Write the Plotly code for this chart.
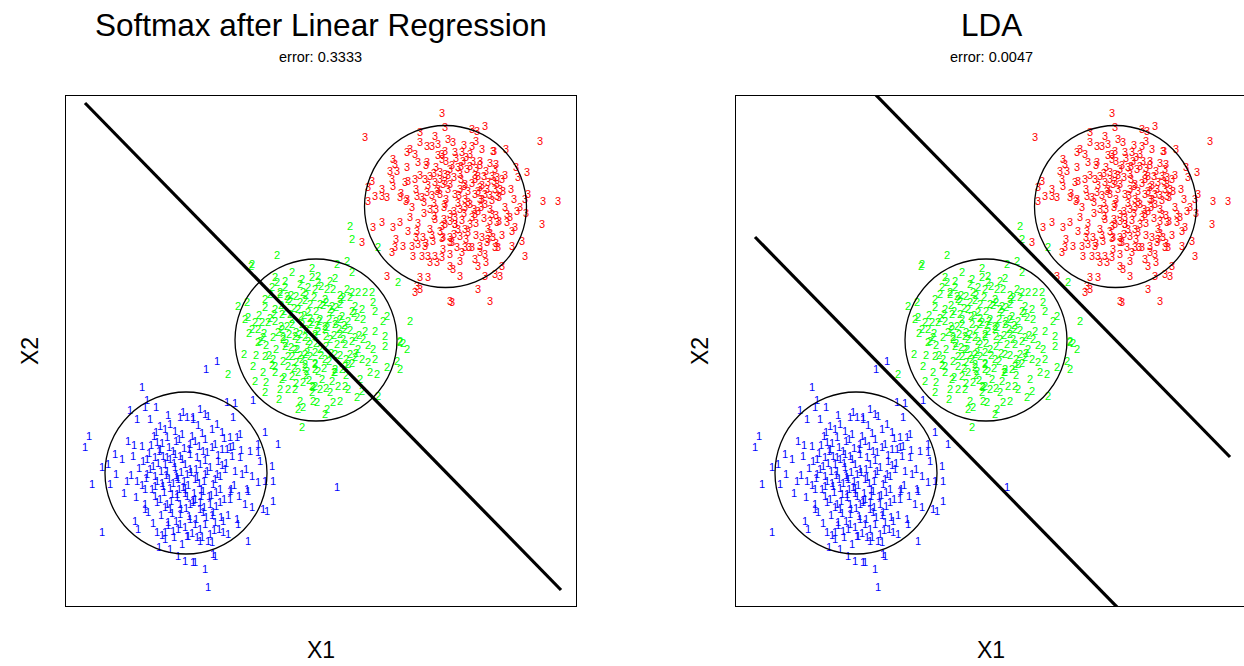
import plotly.graph_objects as go

# ---- data (arbitrary units, no ticks shown) ----
c1_x = [7.6,8.1,9.0,6.4,7.9,2.3,1.9,6.2,4.9,4.2,3.6,5.0,2.6,4.4,7.1,8.4,9.4,7.6,11.4,12.1,12.7,10.9,10.1,11.6,9.1,6.7,7.7,8.9,9.7,10.7,11.4,12.4,6.1,7.1,8.1,9.1,10.1,11.1,12.1,9.7,11.7,8.6,
        16.1,16.9,18.7,13.4,13.9,14.2,16.7,15.1,15.6,17.4,19.9,16.4,17.1,19.2,21.2,16.4,15.6,16.7,18.4,19.2,16.6,17.4,19.4,20.6,17.6,18.6,19.9,20.7,19.2,18.1,16.4,12.7,12.9,13.7,14.4,13.1,14.7,13.7,15.2,15.1,
        3.6,6.9,7.2,7.9,8.2,8.9,10.1,11.1,12.1,12.4,11.4,9.1,9.9,10.7,11.4,10.2,12.1,9.9,11.6,10.4,11.2,11.9,12.7,
        18.2,17.9,18.6,19.7,20.1,20.7,12.7,13.4,14.4,15.4,16.4,13.7,14.7,15.7,17.1,17.2,12.9,13.9,14.9,15.7,16.2,14.4,13.1,13.4,14.2,14.6,18.2,14.7,14.9,12.9,13.9,14.2,
        27.1,14.0,15.1,
        10.4,10.9,11.9,12.4,11.2,9.9,12.9,13.4,13.9,11.9,10.6,9.4,12.9,11.4,13.4,12.4,10.9,9.4,8.4,7.9,13.9,12.4,10.4,14.9,15.9,15.4,
        8.8,9.6,10.3,11.0,11.8,12.6,13.3,14.1,8.3,9.2,10.0,10.7,11.5,12.2,13.0,13.8,14.5,15.4,16.0,7.3,8.0,8.9,9.8,10.5,11.3,12.0,12.8,13.5,14.0,15.0,16.2,9.5,10.4,11.0,11.9,12.6,13.4,8.7,7.0,6.5,15.8,14.6,13.2,11.7,10.2,9.0,6.8,5.6,5.8,17.5,18.0,16.8,17.3,15.3,10.8,9.3,
        8.5,9.3,10.1,10.8,11.6,12.3,13.1,13.9,14.6,15.2,8.7,9.5,10.3,11.0,11.8,12.5,13.3,14.1,14.9,15.6,8.9,9.6,10.4,11.1,11.9,12.7,13.5,14.3,15.0,15.8,9.1,9.9,10.6,11.5,12.3,13.0,13.8,14.6,15.5,10.2,11.2,12.2,13.6,14.8,9.6,16.5,16.9,16.1,13.6,11.3,9.9,8.1,7.6,7.9]
c1_y = [21.8,20.5,19.8,19.5,19.8,16.9,15.8,16.4,15.1,14.1,13.8,13.1,12.1,12.1,18.6,18.6,17.9,15.9,18.8,18.8,18.6,17.4,16.8,17.1,16.3,14.9,14.4,14.8,14.9,15.4,14.9,15.1,12.4,12.4,13.1,12.4,13.4,12.8,13.1,11.9,11.8,11.6,
        20.3,20.2,20.5,19.6,19.1,18.9,18.8,18.1,17.3,17.1,17.3,16.8,16.8,16.1,16.1,15.8,15.6,15.9,15.4,15.3,14.9,14.8,14.4,13.9,13.1,12.9,12.4,12.4,12.3,11.6,11.4,18.8,16.4,15.4,13.8,12.8,12.1,11.4,14.4,13.1,
        7.3,8.4,7.6,10.1,9.3,10.9,10.1,11.1,10.9,10.1,9.1,7.3,7.3,7.4,8.1,8.3,6.9,6.6,6.1,5.6,4.9,4.4,4.3,
        11.4,10.1,9.8,9.6,9.4,10.4,10.3,10.3,10.1,10.3,10.6,9.3,9.3,8.4,8.6,8.1,8.1,8.1,8.3,7.3,7.1,7.1,6.8,6.4,6.4,6.3,6.4,5.1,4.9,4.3,3.6,1.8,
        11.8,23.6,24.4,
        14.6,13.8,14.1,13.6,12.6,14.1,12.6,14.1,13.1,11.6,11.1,10.6,10.6,10.1,9.6,8.6,15.1,15.6,13.6,11.6,16.6,16.1,18.1,16.1,13.6,11.6,
        16.9,16.2,15.8,16.4,15.7,16.9,15.9,15.3,15.2,14.2,13.0,12.2,13.3,12.0,13.6,12.4,11.0,12.9,14.2,13.7,12.7,11.9,11.3,10.4,11.6,9.7,11.2,10.9,8.8,9.9,9.0,9.0,9.6,8.4,7.8,7.2,7.6,8.2,10.8,13.0,16.7,17.6,18.0,19.3,19.0,17.3,16.0,14.6,11.2,15.5,13.6,12.0,10.9,7.6,6.8,5.8,
        16.0,15.4,14.8,14.2,14.6,15.6,14.8,14.5,15.8,15.0,13.9,13.4,12.6,13.0,12.4,13.3,12.2,13.4,12.6,14.0,12.9,12.2,11.7,10.8,11.2,10.5,11.6,10.9,11.3,10.6,10.3,9.8,9.2,9.6,8.9,8.6,9.8,9.0,8.8,8.0,7.6,6.9,6.8,7.5,7.0,11.6,13.4,15.6,17.2,16.6,17.6,14.6,12.0,9.6]

c2_x = [21.1,18.6,18.5,22.6,24.6,20.9,21.9,21.1,23.4,24.6,24.2,20.6,21.4,21.9,20.4,22.1,23.7,24.9,19.9,17.2,18.1,19.9,20.9,22.4,23.4,24.4,18.2,18.9,19.6,20.2,20.9,21.6,22.4,23.2,24.2,18.6,19.2,21.6,22.6,23.6,24.6,19.7,20.7,21.7,22.9,23.9,24.9,19.4,17.9,
        28.1,27.1,28.6,26.4,26.7,28.1,28.6,29.2,29.9,30.6,33.2,25.2,25.2,27.7,28.4,30.7,30.9,29.6,28.9,28.6,29.7,29.1,31.7,32.1,34.4,29.9,30.9,31.9,28.9,29.7,33.4,33.7,25.9,26.9,27.6,26.6,28.2,
        17.8,18.7,16.2,18.9,19.7,19.9,19.2,19.9,20.7,20.9,20.9,21.6,21.4,22.2,22.9,23.7,23.2,24.1,24.9,24.7,24.6,23.4,23.7,23.2,24.7,23.6,21.9,22.6,22.2,23.6,24.9,
        31.9,33.4,34.1,33.1,33.4,32.1,30.9,30.2,30.4,31.1,31.2,29.6,29.1,28.2,27.2,26.4,26.7,26.1,25.9,27.4,28.9,29.6,29.2,30.7,28.2,26.9,25.6,24.9,
        28.4,28.6,31.2,
        25.4,25.9,24.9,26.4,24.4,25.4,26.9,23.9,25.9,27.4,27.9,23.4,24.4,26.4,25.4,27.4,22.9,24.9,26.9,23.9,27.9,28.4,25.9,27.4,
        21.5,22.8,23.8,25.0,26.0,27.0,20.4,21.2,22.1,23.0,24.0,25.1,26.3,27.3,28.4,20.0,21.0,22.0,23.1,24.1,25.0,26.0,27.1,28.0,20.6,21.7,22.8,24.0,25.2,26.3,27.6,21.8,23.0,24.3,25.4,26.6,22.5,24.0,26.1,27.4,19.3,18.3,19.0,29.3,30.2,29.4,21.3,25.1,28.0,23.6,26.9,20.0,
        21.4,22.2,23.0,23.9,24.8,25.7,26.6,21.8,22.6,23.5,24.4,25.3,26.1,27.0,27.8,21.5,22.3,23.2,24.2,25.2,26.0,26.8,27.7,28.6,21.7,22.5,23.4,24.4,25.5,26.5,27.4,28.6,22.2,23.0,23.9,24.9,25.8,26.8,27.9,22.6,24.6,26.0,27.9,20.8,19.8,20.3,29.0,28.8,27.5,25.5]
c2_y = [35.0,34.1,33.9,33.3,33.7,32.8,32.4,32.3,32.1,32.8,31.8,31.8,31.1,31.8,31.1,30.9,31.3,31.6,30.6,29.9,30.3,29.8,29.6,30.4,30.3,30.1,28.8,28.3,28.3,28.3,28.4,29.1,29.1,29.6,29.3,27.6,27.6,27.6,28.1,28.1,28.3,26.8,26.8,26.8,26.9,26.8,26.9,26.4,28.6,
        34.4,34.1,33.3,32.4,31.6,31.6,31.3,31.3,31.3,31.3,32.3,32.9,32.3,30.8,30.8,30.3,29.4,29.6,29.9,29.4,28.6,28.8,28.4,28.9,28.4,27.4,27.4,26.9,26.8,26.6,26.4,26.2,27.9,28.1,28.9,29.3,28.4,
        25.1,23.9,23.1,22.4,23.3,21.3,26.3,24.9,24.6,23.9,23.3,22.6,21.6,21.6,21.6,22.3,23.3,23.4,23.6,21.8,21.3,20.4,19.8,19.6,20.4,17.8,25.9,24.9,23.9,24.6,25.3,
        25.9,26.3,25.6,24.4,23.6,23.8,24.6,24.3,23.3,23.1,20.9,21.4,20.8,21.6,21.9,21.3,20.3,19.6,19.1,20.4,24.8,24.6,25.6,25.6,24.1,23.3,22.6,21.9,
        37.9,36.6,35.8,
        28.6,27.6,27.1,26.6,26.1,25.6,25.1,25.1,24.6,27.1,26.1,27.1,28.1,29.6,30.1,28.6,25.6,24.1,23.6,24.1,27.6,25.1,30.6,30.1,
        30.0,29.7,29.0,29.4,30.3,29.8,28.7,27.3,27.9,27.3,27.6,28.0,28.6,27.6,27.5,26.0,25.6,26.2,25.6,25.3,26.2,25.9,26.1,24.6,24.0,24.4,23.7,23.0,23.4,24.4,23.6,22.8,22.2,22.5,21.6,22.4,31.0,31.0,31.6,31.0,29.0,27.2,25.0,27.0,26.0,22.6,20.6,20.3,23.0,32.6,32.7,22.3,
        31.3,30.6,30.9,30.5,30.8,30.0,29.9,29.4,28.6,28.9,28.7,28.4,27.8,28.4,28.0,27.9,27.1,26.6,26.4,27.4,26.9,27.0,26.6,26.4,26.6,25.8,25.0,24.9,25.0,25.2,25.0,24.2,24.9,24.3,23.8,24.2,23.7,23.3,23.9,22.9,21.9,21.7,21.9,29.1,27.2,25.0,25.2,29.2,30.6,31.9]

c3_x = [29.9,37.6,37.9,35.4,36.9,35.4,36.1,36.6,37.2,34.4,34.1,34.9,36.1,37.6,32.7,32.4,33.1,34.1,35.2,32.9,30.6,31.6,30.2,32.6,32.7,33.9,34.9,35.9,36.9,37.4,30.9,31.6,32.1,33.4,34.1,35.1,36.1,37.1,37.7,30.2,37.4,
        41.9,40.6,41.1,47.4,38.7,40.6,41.6,42.7,38.9,39.6,40.4,37.9,39.7,40.7,41.4,39.2,38.4,40.1,42.9,42.6,43.1,41.2,45.2,46.1,42.2,43.1,41.4,42.1,42.9,43.7,43.1,46.2,47.7,49.2,45.9,
        30.7,29.6,32.6,32.9,33.7,34.6,35.2,35.9,34.7,35.6,36.2,36.9,37.6,36.4,37.1,32.1,35.1,35.4,36.2,35.4,34.9,38.4,31.6,32.7,33.4,34.4,35.1,35.7,36.7,37.7,37.4,38.4,38.4,37.7,38.4,
        47.6,45.9,45.6,44.6,44.1,45.1,45.4,42.9,43.2,41.9,41.2,41.9,42.9,43.4,43.6,41.2,42.4,38.6,39.4,38.7,39.9,39.1,40.6,41.4,42.1,42.7,41.6,40.2,39.2,38.4,42.2,43.1,42.6,41.2,39.9,38.9,44.1,
        38.4,39.4,38.9,39.9,37.9,40.4,39.4,38.4,40.9,37.4,39.9,40.9,41.9,38.9,37.9,36.4,36.9,41.4,40.4,42.4,39.4,37.9,40.9,41.9,
        36.0,37.0,38.0,39.0,40.0,41.0,42.0,43.0,35.4,36.4,38.2,39.5,40.6,41.8,43.6,44.5,35.0,36.6,38.0,39.2,40.2,41.2,42.6,43.9,34.6,35.8,37.0,38.4,39.6,40.8,41.8,43.0,44.4,35.2,36.4,37.6,38.8,40.0,41.0,42.4,43.6,36.0,39.6,40.9,44.6,33.5,34.2,45.0,44.0,38.2,41.0,39.8,33.0,46.0,42.0,
        37.6,38.6,39.5,40.4,41.4,42.4,36.8,37.9,38.8,39.8,40.9,41.6,42.8,43.4,36.2,37.2,38.2,39.3,40.2,41.6,42.4,43.3,35.6,36.8,37.8,38.8,39.8,40.6,41.5,42.4,43.3,35.8,36.8,37.8,38.9,39.9,41.0,42.2,43.0,36.6,37.6,38.6,39.4,40.3,41.4,43.9,44.8,44.9,34.2,34.0,35.0,39.4,42.8,37.2]
c3_y = [46.8,49.2,47.8,47.3,46.9,46.3,45.9,45.9,46.1,45.6,45.3,45.1,44.3,45.1,44.6,43.4,43.4,43.8,44.3,44.1,42.4,41.6,41.8,42.6,41.9,42.3,42.6,42.6,42.3,42.6,40.9,40.9,40.8,40.8,40.6,40.9,41.3,41.4,42.1,40.4,43.3,
        47.9,47.6,47.4,46.4,46.3,45.9,45.6,45.4,45.3,45.3,45.1,45.4,44.4,44.4,44.4,43.8,43.6,43.6,43.6,42.9,42.8,42.9,42.8,43.3,42.3,42.1,41.8,41.6,41.6,41.4,40.9,41.1,40.4,40.4,40.6,
        37.8,36.3,35.3,35.8,35.9,35.9,36.1,35.9,34.9,34.9,34.9,34.9,34.8,34.3,34.3,32.9,31.9,31.6,32.8,32.8,31.3,33.9,38.3,37.8,38.3,38.8,37.4,36.8,36.4,36.8,37.4,36.3,35.1,35.6,30.4,
        38.1,34.9,36.4,37.4,39.1,39.4,39.8,35.8,35.8,35.1,33.9,32.9,33.1,32.9,33.9,31.6,30.4,30.3,32.9,33.6,35.8,35.8,35.8,35.9,36.3,36.8,36.8,37.3,37.6,36.8,37.6,38.3,39.1,39.4,39.8,38.8,38.3,
        42.1,41.6,41.1,40.6,40.1,40.1,39.6,39.1,41.1,41.1,42.1,39.1,40.1,38.1,38.1,39.6,38.6,40.6,38.1,39.6,43.1,43.1,42.6,41.1,
        44.0,43.8,44.4,44.7,44.8,43.7,43.4,44.1,43.0,42.9,43.0,42.6,42.2,42.9,42.6,41.6,41.6,41.0,40.6,40.2,41.4,41.4,40.5,39.8,39.8,40.3,39.6,38.4,38.5,39.6,38.7,39.0,38.8,38.2,37.6,37.9,37.1,36.6,37.0,37.2,37.0,36.2,35.3,34.6,35.9,41.2,37.4,43.8,45.6,46.6,46.4,46.0,36.6,39.2,34.3,
        44.6,44.0,43.9,43.9,44.0,44.2,43.2,42.4,42.8,41.9,43.0,42.0,42.4,41.6,42.0,41.6,41.6,41.0,40.3,40.6,41.0,40.8,40.8,40.2,39.8,39.4,39.2,38.8,39.8,38.4,38.4,39.2,38.9,38.6,38.1,37.6,38.2,36.6,36.2,37.0,36.7,36.3,36.9,35.8,35.3,43.0,40.6,37.8,42.4,40.4,36.8,34.4,45.4,45.0]

circle_cx = [12.0, 25.0, 37.95]
circle_cy = [13.3, 26.6, 39.95]
circle_r = [8.1, 8.1, 8.1]

# decision boundaries (endpoints in data units)
lr_line_x = [1.9, 49.5]
lr_line_y = [50.3, 1.6]
lda_line1_x = [13.7, 49.4]
lda_line1_y = [51.4, 14.9]
lda_line2_x = [1.9, 38.2]
lda_line2_y = [36.9, -0.2]

titles = ["Softmax after Linear Regression", "LDA"]
errors = ["error: 0.3333", "error: 0.0047"]

W, H = 1244, 666
FONT = "Liberation Sans, Arial, Helvetica, sans-serif"

fig = go.Figure()

clusters = [(c1_x, c1_y, "1", "#0000FF"), (c2_x, c2_y, "2", "#00FF00"), (c3_x, c3_y, "3", "#FF0000")]
for ax in ["", "2"]:
    for xs, ys, lab, col in clusters:
        fig.add_trace(go.Scatter(x=xs, y=ys, mode="text", text=[lab] * len(xs),
                                 textposition="middle center",
                                 textfont=dict(color=col, size=11, family=FONT),
                                 xaxis="x" + ax, yaxis="y" + ax, hoverinfo="skip", showlegend=False))

fig.add_trace(go.Scatter(x=lr_line_x, y=lr_line_y, mode="lines", line=dict(color="black", width=3.2),
                         xaxis="x", yaxis="y", hoverinfo="skip", showlegend=False))
for lx, ly in [(lda_line1_x, lda_line1_y), (lda_line2_x, lda_line2_y)]:
    fig.add_trace(go.Scatter(x=lx, y=ly, mode="lines", line=dict(color="black", width=3.2),
                             xaxis="x2", yaxis="y2", hoverinfo="skip", showlegend=False))

shapes = []
for ax in ["", "2"]:
    for cx, cy, r in zip(circle_cx, circle_cy, circle_r):
        shapes.append(dict(type="circle", xref="x" + ax, yref="y" + ax,
                           x0=cx - r, x1=cx + r, y0=cy - r, y1=cy + r,
                           line=dict(color="black", width=1.3)))

ydom = [60 / H, 570 / H]
axis_common = dict(showticklabels=False, showgrid=False, zeroline=False, ticks="",
                   showline=True, linecolor="black", linewidth=1)

fig.update_layout(
    width=W, height=H, margin=dict(l=0, r=0, t=0, b=0),
    paper_bgcolor="white", plot_bgcolor="white",
    xaxis=dict(domain=[66 / W, 576 / W], range=[0, 51], mirror=True, **axis_common),
    yaxis=dict(domain=ydom, range=[0, 51], mirror=True, **axis_common),
    xaxis2=dict(domain=[736 / W, 1.0], range=[0, 50.8], mirror=True, anchor="y2", **axis_common),
    yaxis2=dict(domain=ydom, range=[0, 51], mirror=False, anchor="x2", **axis_common),
    shapes=shapes, hovermode=False,
)

annos = []
for cx, t, e in [(321, titles[0], errors[0]), (991, titles[1], errors[1])]:
    annos.append(dict(text=t, x=cx / W, y=1 - 25 / H, xref="paper", yref="paper",
                      xanchor="center", yanchor="middle", showarrow=False,
                      font=dict(size=31.5, family=FONT, color="black")))
    annos.append(dict(text=e, x=cx / W, y=1 - 57 / H, xref="paper", yref="paper",
                      xanchor="center", yanchor="middle", showarrow=False,
                      font=dict(size=14.5, family=FONT, color="black")))
    annos.append(dict(text="X1", x=cx / W, y=1 - 650 / H, xref="paper", yref="paper",
                      xanchor="center", yanchor="middle", showarrow=False,
                      font=dict(size=23, family=FONT, color="black")))
for xx in [30, 700]:
    annos.append(dict(text="X2", x=xx / W, y=1 - 351 / H, xref="paper", yref="paper",
                      xanchor="center", yanchor="middle", showarrow=False, textangle=-90,
                      font=dict(size=23, family=FONT, color="black")))
fig.update_layout(annotations=annos)

fig.write_html("out.html", config={"displayModeBar": False})
